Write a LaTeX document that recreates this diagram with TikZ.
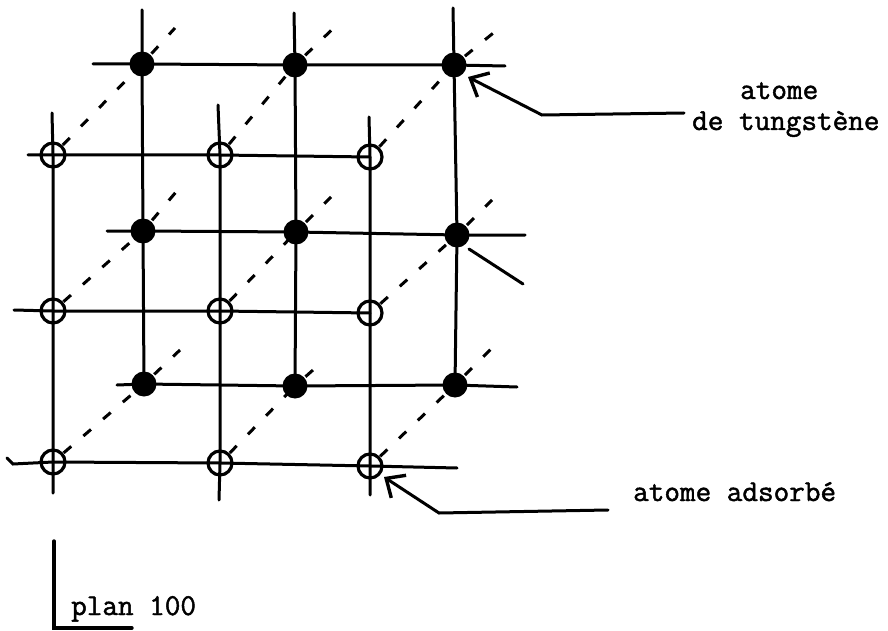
\documentclass[tikz,border=0pt]{standalone}
\usepackage{fontspec}
\setmonofont[FakeBold=1.6]{Latin Modern Mono}
\usetikzlibrary{arrows.meta}
\tikzset{
  full/.style={circle,fill=black,draw=none,inner sep=0pt,minimum size=25pt},
  hollow/.style={circle,draw=black,line width=3.2pt,inner sep=0pt,minimum size=24pt},
  grid/.style={line width=3pt,line cap=round,black},
  diag/.style={line width=3pt,black,dash pattern=on 10pt off 16pt},
  leader/.style={line width=3pt,line cap=round,black},
  barb/.style={leader,-{Straight Barb[length=15pt,width=27pt,line width=3.4pt]}},
  lab/.style={anchor=base west,inner sep=0pt,font=\ttfamily\fontsize{30.3}{30.3}\selectfont}
}
\begin{document}
\begin{tikzpicture}[x=1pt,y=-1pt]
\useasboundingbox (0,0) rectangle (888,631);
% filled atoms
\node[full] (f11) at (142,64) {};
\node[full] (f12) at (295,65) {};
\node[full] (f13) at (454,65) {};
\node[full] (f21) at (143,231) {};
\node[full] (f22) at (296,232) {};
\node[full] (f23) at (457,235) {};
\node[full] (f31) at (144,384) {};
\node[full] (f32) at (295,386) {};
\node[full] (f33) at (455,385) {};
% adsorbed atoms
\node[hollow] (o11) at (53,155) {};
\node[hollow] (o12) at (220,155) {};
\node[hollow] (o13) at (370,157) {};
\node[hollow] (o21) at (53,311) {};
\node[hollow] (o22) at (220,311) {};
\node[hollow] (o23) at (370,313) {};
\node[hollow] (o31) at (53,462) {};
\node[hollow] (o32) at (220,463) {};
\node[hollow] (o33) at (370,466) {};
% free ends
\coordinate (h1l) at (93,64);   \coordinate (h1r) at (505,66);
\coordinate (h2l) at (107,231); \coordinate (h2r) at (525,235);
\coordinate (h3l) at (117,385); \coordinate (h3r) at (517,387);
\coordinate (h4l) at (28,155);
\coordinate (h5l) at (14,310);
\coordinate (h6k) at (7,458);   \coordinate (h6l) at (13,464); \coordinate (h6r) at (457,468);
\coordinate (v1t) at (142,10);  \coordinate (v2t) at (294,13); \coordinate (v3t) at (453,8);
\coordinate (v4t) at (52,113);  \coordinate (v4b) at (53,493);
\coordinate (v5t) at (218,105); \coordinate (v5b) at (219,500);
\coordinate (v6t) at (369,117); \coordinate (v6b) at (370,495);
\coordinate (d11) at (175,28);  \coordinate (d12) at (340,22); \coordinate (d13) at (497,30);
\coordinate (d21) at (176,192); \coordinate (d22) at (331,197); \coordinate (d23) at (492,200);
\coordinate (d31) at (180,350); \coordinate (d32) at (322,362); \coordinate (d33) at (495,345);
% grid
\draw[grid] (h1l) -- (f11.center) -- (f12.center) -- (f13.center) -- (h1r);
\draw[grid] (h2l) -- (f21.center) -- (f22.center) -- (f23.center) -- (h2r);
\draw[grid] (h3l) -- (f31.center) -- (f32.center) -- (f33.center) -- (h3r);
\draw[grid] (h4l) -- (o11.center) -- (o12.center) -- (o13.center);
\draw[grid] (h5l) -- (o21.center) -- (o22.center) -- (o23.center);
\draw[grid] (h6k) -- (h6l) -- (o31.center) -- (o32.center) -- (o33.center) -- (h6r);
\draw[grid] (v1t) -- (f11.center) -- (f21.center) -- (f31.center);
\draw[grid] (v2t) -- (f12.center) -- (f22.center) -- (f32.center);
\draw[grid] (v3t) -- (f13.center) -- (f23.center) -- (f33.center);
\draw[grid] (v4t) -- (o11.center) -- (o21.center) -- (o31.center) -- (v4b);
\draw[grid] (v5t) -- (o12.center) -- (o22.center) -- (o32.center) -- (v5b);
\draw[grid] (v6t) -- (o13.center) -- (o23.center) -- (o33.center) -- (v6b);
% diagonals
\foreach \a/\b/\c in {o11/f11/d11,o12/f12/d12,o13/f13/d13,o21/f21/d21,o22/f22/d22,o23/f23/d23,o31/f31/d31,o32/f32/d32,o33/f33/d33}{
  \draw[diag,dash phase=-14pt] (\a.center) -- (\b.center);
  \draw[diag,dash phase=-14pt] (\b.center) -- (\c);
}
% leaders
\coordinate (t1e) at (684,113); \coordinate (t1b) at (542,115); \coordinate (t1a) at (468,77);
\coordinate (t2a) at (469,249); \coordinate (t2b) at (523,284);
\coordinate (t3e) at (608,510); \coordinate (t3b) at (439,513); \coordinate (t3a) at (384,477);
\draw[barb] (t1e) -- (t1b) -- (t1a);
\draw[leader] (t2a) -- (t2b);
\draw[barb] (t3e) -- (t3b) -- (t3a);
% plane mark
\coordinate (pt) at (54,541); \coordinate (pc) at (54,628); \coordinate (pr) at (132,628);
\draw[line width=3.4pt,line cap=round] (pt) -- (pc) -- (pr);
% labels
\node[lab] (l1) at (740,99) {atome};
\node[lab] (l2) at (692,130) {de tungstène};
\node[lab] (l3) at (633,501) {atome adsorbé};
\node[lab] (l4) at (71,615) {plan 100};
\end{tikzpicture}
\end{document}
